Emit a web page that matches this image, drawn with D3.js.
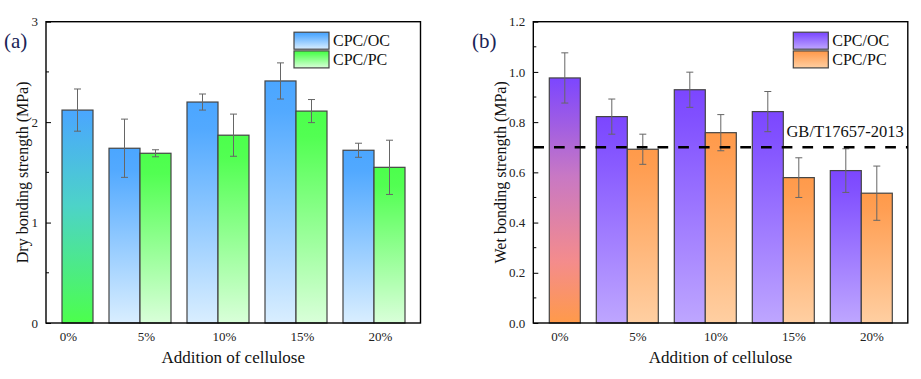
<!DOCTYPE html>
<html>
<head>
<meta charset="utf-8">
<script src="https://cdn.jsdelivr.net/npm/d3@7"></script>
<style>
  body { margin: 0; background: #fff; }
  svg text { font-family: "Liberation Serif", "Times New Roman", serif !important; }
</style>
</head>
<body>
<div id="chart"></div>
<script>
// data
const categories = ["0%", "5%", "10%", "15%", "20%"]
const seriesNames = ["CPC/OC", "CPC/PC"]

// (a) dry bonding strength, MPa  (0% = plain CPC, drawn as one bar)
const dryOC = [null, 1.74, 2.20, 2.41, 1.72]
const dryOCerr = [null, 0.29, 0.08, 0.18, 0.07]
const dryPC = [2.12, 1.69, 1.87, 2.11, 1.55]
const dryPCerr = [0.21, 0.035, 0.21, 0.115, 0.27]

// (b) wet bonding strength, MPa
const wetOC = [null, 0.822, 0.929, 0.842, 0.607]
const wetOCerr = [null, 0.07, 0.07, 0.08, 0.087]
const wetPC = [0.976, 0.692, 0.758, 0.579, 0.517]
const wetPCerr = [0.10, 0.06, 0.072, 0.079, 0.108]
const standardLine = 0.7
const standardLabel = "GB/T17657-2013"

const dryTicks = [0, 1, 2, 3]
const wetTicks = [0, 0.2, 0.4, 0.6, 0.8, 1.0, 1.2]

const W = 921, H = 379
const plotW = 374.5, plotH = 301.3
const barW = 31
const serif = "'Liberation Serif', 'Times New Roman', serif"

const svg = d3.select("#chart").append("svg")
  .attr("width", W)
  .attr("height", H)
  .attr("font-family", serif)

const defs = svg.append("defs")
function grad(id, stops) {
  const g = defs.append("linearGradient")
    .attr("id", id)
    .attr("x1", 0).attr("y1", 0).attr("x2", 0).attr("y2", 1)
  stops.forEach(s => g.append("stop").attr("offset", s[0]).attr("stop-color", s[1]))
}
grad("gBlue", [[0, "#4ba6ff"], [0.12, "#52a9ff"], [1, "#d9eeff"]])
grad("gGreen", [[0, "#4cff4c"], [0.12, "#52ff52"], [1, "#d9ffd9"]])
grad("gMixA", [[0, "#4aa6ff"], [0.45, "#4dd3c8"], [1, "#4cff4c"]])
grad("gPurple", [[0, "#7c46ff"], [0.12, "#8150ff"], [1, "#bea6ff"]])
grad("gOrange", [[0, "#ff9a4a"], [0.12, "#ff9e52"], [1, "#ffcfa2"]])
grad("gMixB", [[0, "#7c46ff"], [0.4, "#c878c4"], [0.75, "#f48c8c"], [1, "#ff9a4a"]])

function panel(opt) {
  const g = svg.append("g")
    .attr("transform", "translate(" + opt.left + "," + opt.top + ")")

  const x = d3.scalePoint()
    .domain(categories)
    .range([16, 328])

  const y = d3.scaleLinear()
    .domain(opt.domain)
    .range([plotH, 0])

  // y axis, ticks pointing inward
  const yAxis = g.append("g")
    .call(d3.axisLeft(y).tickValues(opt.ticks).tickFormat(opt.fmt).tickSize(-5).tickPadding(8))
  yAxis.attr("font-family", serif)
  yAxis.select(".domain").remove()
  yAxis.selectAll("line").attr("stroke", "#000")
  yAxis.selectAll("text")
    .style("font-family", serif)
    .style("font-size", "13px")
    .attr("fill", "#222")

  // minor ticks
  g.append("g")
    .selectAll("line")
    .data(opt.minor)
    .enter().append("line")
      .attr("x1", 0).attr("x2", 3)
      .attr("y1", d => y(d)).attr("y2", d => y(d))
      .attr("stroke", "#000")

  // x labels (no tick marks)
  g.append("g")
    .selectAll("text")
    .data(categories)
    .enter().append("text")
      .attr("x", d => x(d) + opt.labelShift)
      .attr("y", plotH + 18.5)
      .attr("text-anchor", "middle")
      .style("font-size", "13px")
      .attr("fill", "#222")
      .text(d => d)

  // bars
  const rows = categories.map((c, i) => ({
    cat: c, oc: opt.oc[i], ocErr: opt.ocErr[i], pc: opt.pc[i], pcErr: opt.pcErr[i]
  }))

  const bars = []
  rows.forEach(r => {
    if (r.oc != null) bars.push({ cat: r.cat, v: r.oc, e: r.ocErr, dx: -barW, fill: opt.fillOC })
    if (r.pc != null) bars.push({ cat: r.cat, v: r.pc, e: r.pcErr, dx: 0,
      fill: r.oc == null ? opt.fillMix : opt.fillPC })
  })

  g.append("g")
    .selectAll("rect")
    .data(bars)
    .enter().append("rect")
      .attr("x", d => x(d.cat) + d.dx)
      .attr("y", d => y(d.v))
      .attr("width", barW)
      .attr("height", d => plotH - y(d.v))
      .attr("fill", d => "url(#" + d.fill + ")")
      .attr("stroke", "#444")
      .attr("stroke-width", 1.2)

  // error bars
  const eb = g.append("g")
    .attr("stroke", "#666")
    .attr("stroke-width", 1)
  eb.selectAll(".stem")
    .data(bars)
    .enter().append("line")
      .attr("x1", d => x(d.cat) + d.dx + barW / 2)
      .attr("x2", d => x(d.cat) + d.dx + barW / 2)
      .attr("y1", d => y(d.v + d.e))
      .attr("y2", d => y(d.v - d.e))
  ;["+", "-"].forEach(s => {
    eb.selectAll(".cap" + (s == "+" ? "p" : "m"))
      .data(bars)
      .enter().append("line")
        .attr("x1", d => x(d.cat) + d.dx + barW / 2 - 3.5)
        .attr("x2", d => x(d.cat) + d.dx + barW / 2 + 3.5)
        .attr("y1", d => y(s == "+" ? d.v + d.e : d.v - d.e))
        .attr("y2", d => y(s == "+" ? d.v + d.e : d.v - d.e))
  })

  // reference line
  if (opt.refLine != null) {
    g.append("line")
      .attr("x1", 0).attr("x2", plotW)
      .attr("y1", y(opt.refLine)).attr("y2", y(opt.refLine))
      .attr("stroke", "#000")
      .attr("stroke-width", 2.6)
      .attr("stroke-dasharray", "10.7,10")
    g.append("text")
      .attr("x", plotW - 4)
      .attr("y", y(opt.refLine) - 10)
      .attr("text-anchor", "end")
      .style("font-size", "16.5px")
      .attr("fill", "#111")
      .text(standardLabel)
  }

  // frame
  g.append("rect")
    .attr("width", plotW)
    .attr("height", plotH)
    .attr("fill", "none")
    .attr("stroke", "#000")
    .attr("stroke-width", 1.4)

  // legend
  const leg = g.append("g")
    .attr("transform", "translate(" + opt.legendX + ",10.5)")
  seriesNames.forEach((name, i) => {
    leg.append("rect")
      .attr("x", 0)
      .attr("y", i * 18.7)
      .attr("width", 35)
      .attr("height", 17)
      .attr("fill", "url(#" + (i == 0 ? opt.fillOC : opt.fillPC) + ")")
      .attr("stroke", "#444")
      .attr("stroke-width", 1.2)
    leg.append("text")
      .attr("x", 39)
      .attr("y", i * 18.7 + 14)
      .style("font-size", "16px")
      .attr("fill", "#111")
      .text(name)
  })

  // axis titles
  g.append("text")
    .attr("x", plotW / 2)
    .attr("y", plotH + 40)
    .attr("text-anchor", "middle")
    .style("font-size", "17px")
    .attr("fill", "#111")
    .text("Addition of cellulose")

  g.append("text")
    .attr("transform", "translate(" + opt.yTitleX + "," + plotH / 2 + ") rotate(-90)")
    .attr("text-anchor", "middle")
    .attr("dy", "0.35em")
    .style("font-size", "16px")
    .attr("fill", "#111")
    .text(opt.yTitle)

  // panel letter
  svg.append("text")
    .attr("x", opt.letterX)
    .attr("y", 48)
    .style("font-size", "21px")
    .attr("fill", "#1a2456")
    .text(opt.letter)
}

panel({
  left: 46, top: 21.7,
  domain: [0, 3], ticks: dryTicks, minor: [0.5, 1.5, 2.5], fmt: d3.format("d"),
  oc: dryOC, ocErr: dryOCerr, pc: dryPC, pcErr: dryPCerr,
  fillOC: "gBlue", fillPC: "gGreen", fillMix: "gMixA",
  labelShift: 6.5, legendX: 248, yTitleX: -23.5,
  yTitle: "Dry bonding strength (MPa)",
  letter: "(a)", letterX: 4
})

panel({
  left: 533.3, top: 21.7,
  domain: [0, 1.2], ticks: wetTicks, minor: [0.1, 0.3, 0.5, 0.7, 0.9, 1.1], fmt: d3.format(".1f"),
  oc: wetOC, ocErr: wetOCerr, pc: wetPC, pcErr: wetPCerr,
  fillOC: "gPurple", fillPC: "gOrange", fillMix: "gMixB",
  labelShift: 10.5, legendX: 260, yTitleX: -32.6,
  refLine: standardLine,
  yTitle: "Wet bonding strength (MPa)",
  letter: "(b)", letterX: 472
})
</script>
</body>
</html>
